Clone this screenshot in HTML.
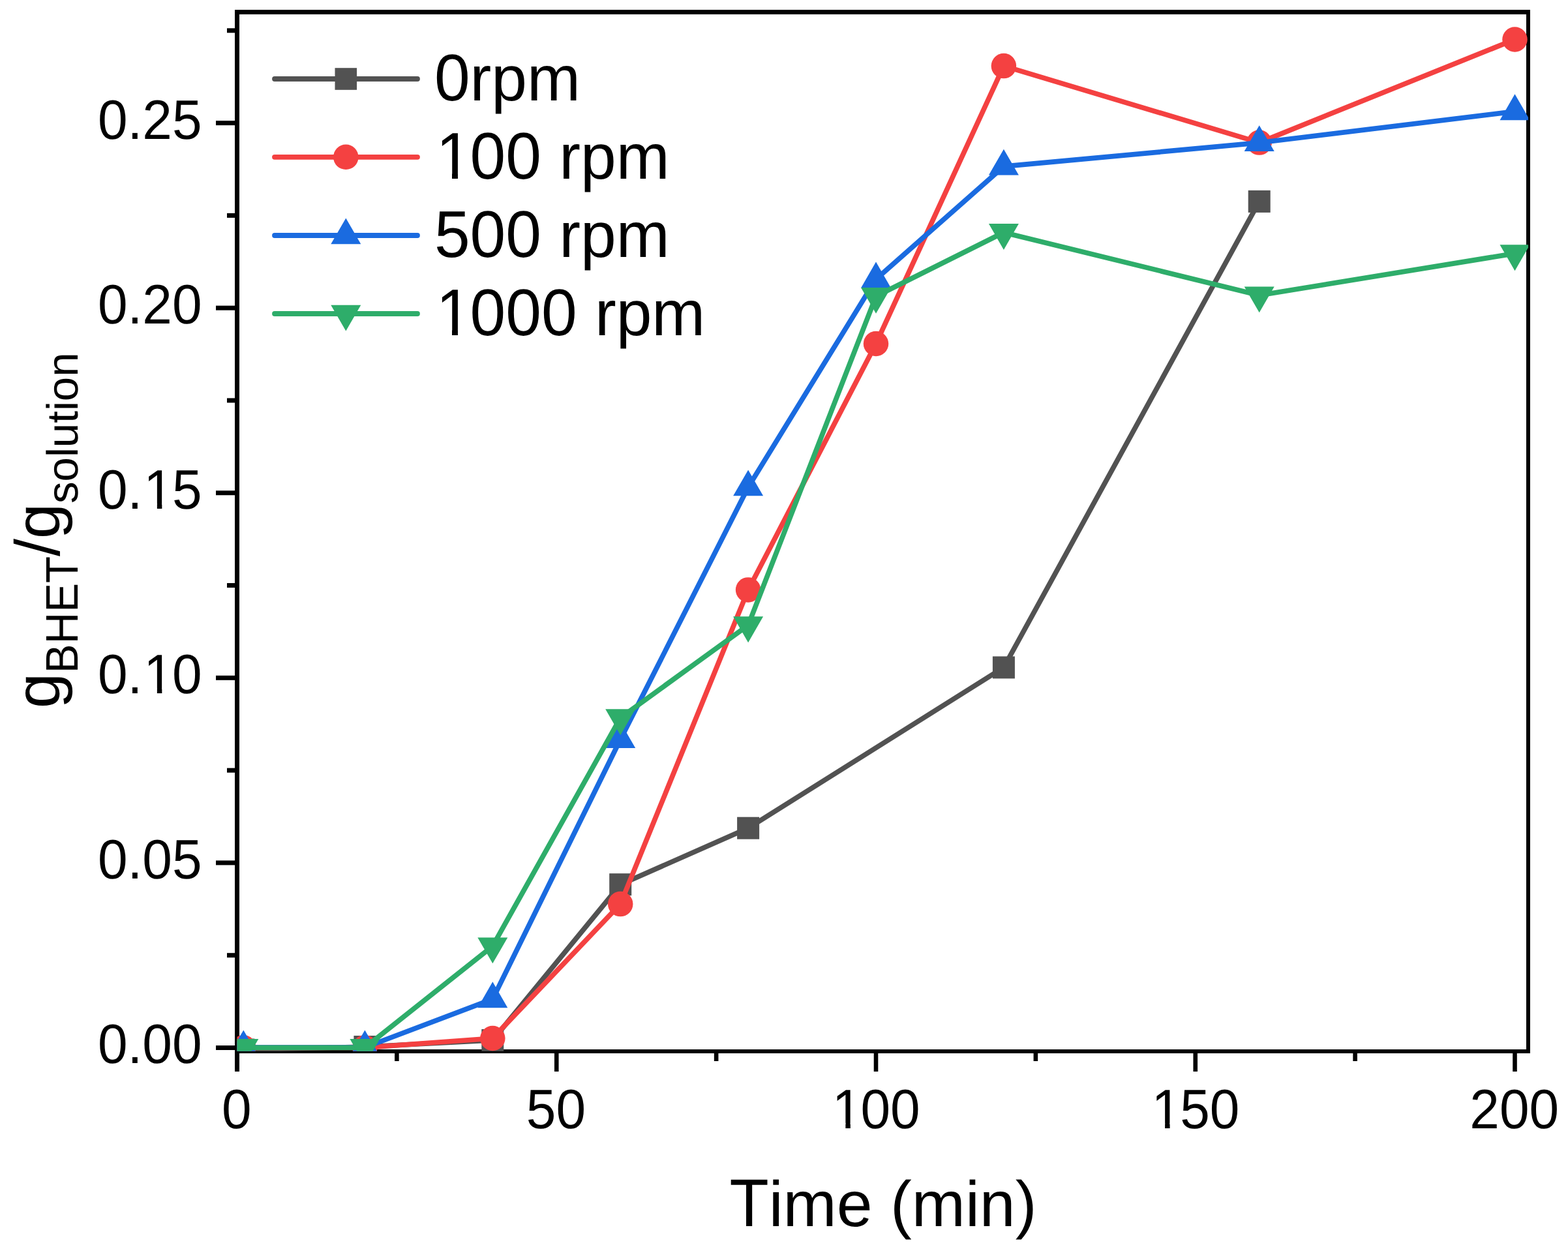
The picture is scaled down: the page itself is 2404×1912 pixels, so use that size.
<!DOCTYPE html>
<html><head><meta charset="utf-8"><title>g BHET / g solution vs Time</title>
<style>html,body{margin:0;padding:0;background:#fff;}body{width:2404px;height:1912px;overflow:hidden;}svg{display:block;}text{font-family:"Liberation Sans",Arial,sans-serif;fill:#000;font-kerning:none;text-rendering:geometricPrecision;white-space:pre;}</style></head><body>
<svg width="2404" height="1912" viewBox="0 0 2404 1912">
<rect width="2404" height="1912" fill="#fff"/>
<defs><clipPath id="c"><rect x="363.5" y="18.5" width="1979.5" height="1593.3"/></clipPath></defs>
<g fill="#000">
<rect x="360" y="15" width="7" height="1628"/>
<rect x="360" y="15" width="1986" height="7"/>
<rect x="2340" y="15" width="6" height="1600"/>
<rect x="360" y="1609" width="1986" height="6"/>
<rect x="331" y="1603" width="29" height="7"/>
<rect x="331" y="1319.42" width="29" height="7"/>
<rect x="331" y="1035.84" width="29" height="7"/>
<rect x="331" y="752.26" width="29" height="7"/>
<rect x="331" y="468.68" width="29" height="7"/>
<rect x="331" y="185.1" width="29" height="7"/>
<rect x="348" y="1461.21" width="12" height="7"/>
<rect x="348" y="1177.63" width="12" height="7"/>
<rect x="348" y="894.05" width="12" height="7"/>
<rect x="348" y="610.47" width="12" height="7"/>
<rect x="348" y="326.89" width="12" height="7"/>
<rect x="348" y="43.31" width="12" height="7"/>
<rect x="360.2" y="1615" width="6.6" height="28"/>
<rect x="849.95" y="1615" width="6.6" height="28"/>
<rect x="1339.7" y="1615" width="6.6" height="28"/>
<rect x="1829.45" y="1615" width="6.6" height="28"/>
<rect x="2319.2" y="1615" width="6.6" height="28"/>
<rect x="605.08" y="1615" width="6.6" height="12"/>
<rect x="1094.83" y="1615" width="6.6" height="12"/>
<rect x="1584.58" y="1615" width="6.6" height="12"/>
<rect x="2074.32" y="1615" width="6.6" height="12"/>
</g>
<g clip-path="url(#c)">
<polyline points="373.3,1609.5 559.4,1605 755.3,1595 951.2,1356.2 1147.1,1269.7 1538.9,1023.4 1930.7,308.9" fill="none" stroke="#525252" stroke-width="7.7" stroke-linejoin="round" stroke-linecap="round"/>
<rect x="356.3" y="1592.5" width="34" height="34" fill="#525252"/>
<rect x="542.4" y="1588" width="34" height="34" fill="#525252"/>
<rect x="738.3" y="1578" width="34" height="34" fill="#525252"/>
<rect x="934.2" y="1339.2" width="34" height="34" fill="#525252"/>
<rect x="1130.1" y="1252.7" width="34" height="34" fill="#525252"/>
<rect x="1521.9" y="1006.4" width="34" height="34" fill="#525252"/>
<rect x="1913.7" y="291.9" width="34" height="34" fill="#525252"/>
<polyline points="373.3,1606.3 559.4,1606.3 755.3,1592 951.2,1386.1 1147.1,904.4 1343,527 1538.9,101.1 1930.7,218.6 2322.5,60.5" fill="none" stroke="#F44141" stroke-width="7.7" stroke-linejoin="round" stroke-linecap="round"/>
<circle cx="373.3" cy="1606.3" r="19.25" fill="#F44141"/>
<circle cx="559.4" cy="1606.3" r="19.25" fill="#F44141"/>
<circle cx="755.3" cy="1592" r="19.25" fill="#F44141"/>
<circle cx="951.2" cy="1386.1" r="19.25" fill="#F44141"/>
<circle cx="1147.1" cy="904.4" r="19.25" fill="#F44141"/>
<circle cx="1343" cy="527" r="19.25" fill="#F44141"/>
<circle cx="1538.9" cy="101.1" r="19.25" fill="#F44141"/>
<circle cx="1930.7" cy="218.6" r="19.25" fill="#F44141"/>
<circle cx="2322.5" cy="60.5" r="19.25" fill="#F44141"/>
<polyline points="373.3,1606 559.4,1606 755.3,1531.9 951.2,1133.8 1147.1,747 1343,428.1 1538.9,255.2 1930.7,218.8 2322.5,170.9" fill="none" stroke="#1A6BE0" stroke-width="7.7" stroke-linejoin="round" stroke-linecap="round"/>
<polygon points="373.3,1579.44 396.3,1619.28 350.3,1619.28" fill="#1A6BE0"/>
<polygon points="559.4,1579.44 582.4,1619.28 536.4,1619.28" fill="#1A6BE0"/>
<polygon points="755.3,1505.34 778.3,1545.18 732.3,1545.18" fill="#1A6BE0"/>
<polygon points="951.2,1107.24 974.2,1147.08 928.2,1147.08" fill="#1A6BE0"/>
<polygon points="1147.1,720.44 1170.1,760.28 1124.1,760.28" fill="#1A6BE0"/>
<polygon points="1343,401.54 1366,441.38 1320,441.38" fill="#1A6BE0"/>
<polygon points="1538.9,228.64 1561.9,268.48 1515.9,268.48" fill="#1A6BE0"/>
<polygon points="1930.7,192.24 1953.7,232.08 1907.7,232.08" fill="#1A6BE0"/>
<polygon points="2322.5,144.34 2345.5,184.18 2299.5,184.18" fill="#1A6BE0"/>
<polyline points="373.3,1606.3 559.4,1606.3 755.3,1450.7 951.2,1100.6 1147.1,958.6 1343,454.3 1538.9,356.4 1930.7,452.7 2322.5,388.6" fill="none" stroke="#2EAD6A" stroke-width="7.7" stroke-linejoin="round" stroke-linecap="round"/>
<polygon points="373.3,1632.86 396.3,1593.02 350.3,1593.02" fill="#2EAD6A"/>
<polygon points="559.4,1632.86 582.4,1593.02 536.4,1593.02" fill="#2EAD6A"/>
<polygon points="755.3,1477.26 778.3,1437.42 732.3,1437.42" fill="#2EAD6A"/>
<polygon points="951.2,1127.16 974.2,1087.32 928.2,1087.32" fill="#2EAD6A"/>
<polygon points="1147.1,985.16 1170.1,945.32 1124.1,945.32" fill="#2EAD6A"/>
<polygon points="1343,480.86 1366,441.02 1320,441.02" fill="#2EAD6A"/>
<polygon points="1538.9,382.96 1561.9,343.12 1515.9,343.12" fill="#2EAD6A"/>
<polygon points="1930.7,479.26 1953.7,439.42 1907.7,439.42" fill="#2EAD6A"/>
<polygon points="2322.5,415.16 2345.5,375.32 2299.5,375.32" fill="#2EAD6A"/>
</g>
<line x1="421" y1="121" x2="640" y2="121" stroke="#525252" stroke-width="7.8" stroke-linecap="round"/>
<rect x="513.5" y="104.2" width="33.6" height="33.6" fill="#525252"/>
<g transform="translate(665.95 154.2)"><g transform="translate(0 0) scale(1 1.03)"><text x="0" y="0" font-size="98.3">0</text></g><g><text x="54.67 87.4 142.07" y="0" font-size="98.3">rpm</text></g></g>
<line x1="421" y1="240.8" x2="640" y2="240.8" stroke="#F44141" stroke-width="7.8" stroke-linecap="round"/>
<circle cx="530.3" cy="240.8" r="19.25" fill="#F44141"/>
<g transform="translate(665.95 274.4)"><g transform="translate(0 0) scale(1 1.03)"><text x="2.46 54.67 109.34 164.01" y="0" font-size="98.3">100 </text><rect x="8.22" y="-8.88" width="18.82" height="10.32" fill="#fff"/><rect x="36.01" y="-8.88" width="18.05" height="10.32" fill="#fff"/></g><g><text x="191.32 224.05 278.72" y="0" font-size="98.3">rpm</text></g></g>
<line x1="421" y1="361" x2="640" y2="361" stroke="#1A6BE0" stroke-width="7.8" stroke-linecap="round"/>
<polygon points="530.3,334.44 553.3,374.28 507.3,374.28" fill="#1A6BE0"/>
<g transform="translate(665.95 394.2)"><g transform="translate(0 0) scale(1 1.03)"><text x="0 54.67 109.34 164.01" y="0" font-size="98.3">500 </text></g><g><text x="191.32 224.05 278.72" y="0" font-size="98.3">rpm</text></g></g>
<line x1="421" y1="481" x2="640" y2="481" stroke="#2EAD6A" stroke-width="7.8" stroke-linecap="round"/>
<polygon points="530.3,507.56 553.3,467.72 507.3,467.72" fill="#2EAD6A"/>
<g transform="translate(665.95 513.8)"><g transform="translate(0 0) scale(1 1.03)"><text x="2.46 54.67 109.34 164.01 218.68" y="0" font-size="98.3">1000 </text><rect x="8.22" y="-8.88" width="18.82" height="10.32" fill="#fff"/><rect x="36.01" y="-8.88" width="18.05" height="10.32" fill="#fff"/></g><g><text x="245.99 278.72 333.39" y="0" font-size="98.3">rpm</text></g></g>
<g transform="translate(309.5 1630.4)"><g transform="translate(0 0) scale(1 1.04)"><text x="-159.6 -113.99 -91.21 -45.6" y="0" font-size="82">0.00</text></g></g>
<g transform="translate(309.5 1346.82)"><g transform="translate(0 0) scale(1 1.04)"><text x="-159.6 -113.99 -91.21 -45.6" y="0" font-size="82">0.05</text></g></g>
<g transform="translate(309.5 1063.24)"><g transform="translate(0 0) scale(1 1.04)"><text x="-159.6 -113.99 -89.16 -45.6" y="0" font-size="82">0.10</text><rect x="-84.35" y="-7.41" width="15.7" height="8.61" fill="#fff"/><rect x="-61.17" y="-7.41" width="15.05" height="8.61" fill="#fff"/></g></g>
<g transform="translate(309.5 779.66)"><g transform="translate(0 0) scale(1 1.04)"><text x="-159.6 -113.99 -89.16 -45.6" y="0" font-size="82">0.15</text><rect x="-84.35" y="-7.41" width="15.7" height="8.61" fill="#fff"/><rect x="-61.17" y="-7.41" width="15.05" height="8.61" fill="#fff"/></g></g>
<g transform="translate(309.5 496.08)"><g transform="translate(0 0) scale(1 1.04)"><text x="-159.6 -113.99 -91.21 -45.6" y="0" font-size="82">0.20</text></g></g>
<g transform="translate(309.5 212.5)"><g transform="translate(0 0) scale(1 1.04)"><text x="-159.6 -113.99 -91.21 -45.6" y="0" font-size="82">0.25</text></g></g>
<g transform="translate(362.7 1729.5)"><g transform="translate(0 0) scale(1 1.04)"><text x="-22.8" y="0" font-size="82">0</text></g></g>
<g transform="translate(852.45 1729.5)"><g transform="translate(0 0) scale(1 1.04)"><text x="-45.6 0" y="0" font-size="82">50</text></g></g>
<g transform="translate(1342.2 1729.5)"><g transform="translate(0 0) scale(1 1.04)"><text x="-66.36 -22.8 22.8" y="0" font-size="82">100</text><rect x="-61.55" y="-7.41" width="15.7" height="8.61" fill="#fff"/><rect x="-38.37" y="-7.41" width="15.05" height="8.61" fill="#fff"/></g></g>
<g transform="translate(1831.95 1729.5)"><g transform="translate(0 0) scale(1 1.04)"><text x="-66.36 -22.8 22.8" y="0" font-size="82">150</text><rect x="-61.55" y="-7.41" width="15.7" height="8.61" fill="#fff"/><rect x="-38.37" y="-7.41" width="15.05" height="8.61" fill="#fff"/></g></g>
<g transform="translate(2321.7 1729.5)"><g transform="translate(0 0) scale(1 1.04)"><text x="-68.41 -22.8 22.8" y="0" font-size="82">200</text></g></g>
<g transform="translate(1118.48 1880)"><g transform="translate(0 0) scale(1 1.05)"><text x="0" y="0" font-size="98.6">T</text></g><g><text x="60.23 82.13 164.27 219.11 246.5 279.33 361.47 383.37 438.21" y="0" font-size="98.6">ime (min)</text></g></g>
<g transform="translate(90.8 1086.1) rotate(-90)"><g><text x="0" y="0" font-size="97">g</text></g><g transform="translate(0 28.2) scale(1 1.04)"><text x="53.95 98.77 147.3 192.12" y="0" font-size="67.2">BHET</text></g><g><text x="233.17 260.12" y="0" font-size="97">/g</text></g><g transform="translate(0 28.2) scale(1 1)"><text x="314.07 347.67 385.04 399.97 437.34 456.01 470.94 508.32" y="0" font-size="67.2">solution</text></g></g>
</svg></body></html>
